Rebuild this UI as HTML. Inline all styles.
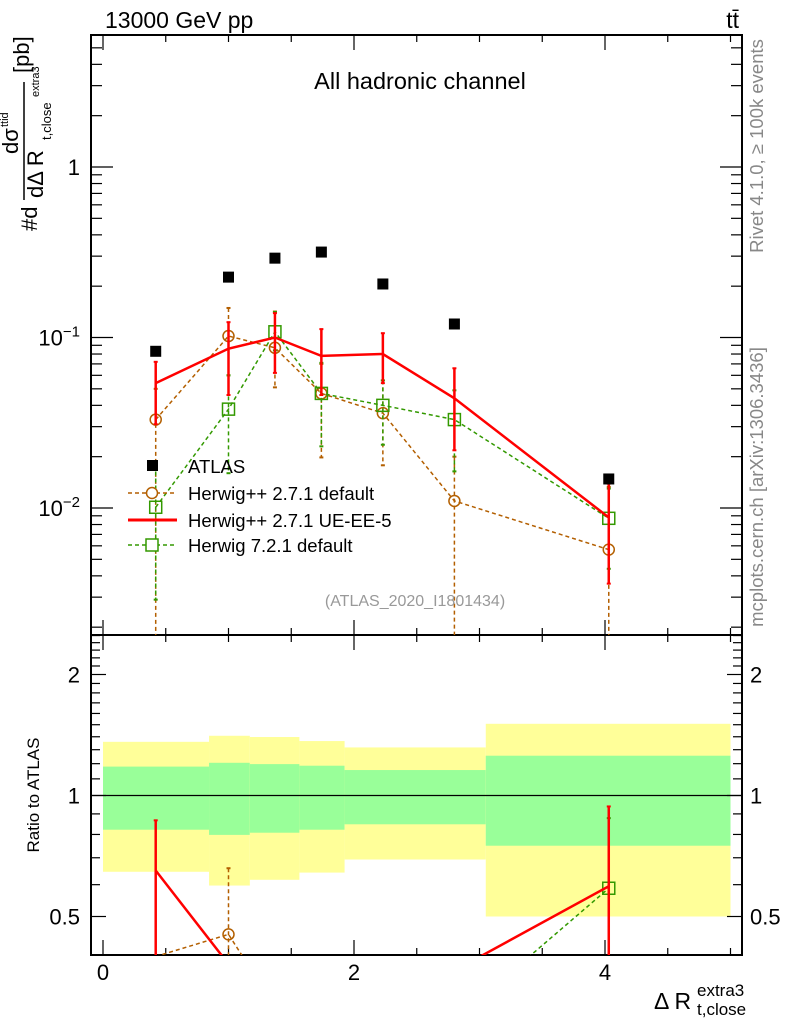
<!DOCTYPE html>
<html><head><meta charset="utf-8">
<style>
html,body{margin:0;padding:0;background:#fff;overflow:hidden;width:786px;height:1024px;}
svg{display:block;font-family:"Liberation Sans",Arial,sans-serif;}
</style></head>
<body>
<svg id="chart" width="786" height="1024" viewBox="0 0 786 1024" xmlns="http://www.w3.org/2000/svg">
<g id="bands"></g>
<g id="axes"></g>
<g id="series"></g>
<text x="105" y="28" font-size="23">13000 GeV pp</text>
<text x="739" y="28" font-size="23" text-anchor="end">tt̄</text>
<text x="420" y="89" font-size="23.5" text-anchor="middle">All hadronic channel</text>
<text x="415" y="606" font-size="16" fill="#999" text-anchor="middle">(ATLAS_2020_I1801434)</text>
<text transform="translate(763,146) rotate(-90)" font-size="18.5" fill="#888" text-anchor="middle">Rivet 4.1.0, ≥ 100k events</text>
<text transform="translate(763,487) rotate(-90)" font-size="18.5" fill="#888" text-anchor="middle">mcplots.cern.ch [arXiv:1306.3436]</text>
<g>
<text transform="translate(37,231) rotate(-90)" font-size="22">#d</text>
<text transform="translate(18,154) rotate(-90)" font-size="22">dσ</text>
<text transform="translate(8,127) rotate(-90)" font-size="11">ttid</text>
<line x1="24" y1="82" x2="24" y2="200" stroke="#000" stroke-width="1.5"/>
<text transform="translate(43,198) rotate(-90)" font-size="22">dΔ R</text>
<text transform="translate(51,140) rotate(-90)" font-size="13">t,close</text>
<text transform="translate(39,97) rotate(-90)" font-size="11">extra3</text>
<text transform="translate(29,73) rotate(-90)" font-size="22">[pb]</text>
</g>
<text transform="translate(39,795) rotate(-90)" font-size="17" text-anchor="middle">Ratio to ATLAS</text>
<g>
<text x="654" y="1009" font-size="23">Δ R</text>
<text x="697" y="996" font-size="17">extra3</text>
<text x="697" y="1015" font-size="17">t,close</text>
</g>
<g id="legend"></g>
</svg>
<script>
// ---- data ----
const xPos = [0.42, 1.0, 1.37, 1.74, 2.23, 2.8, 4.03];
const binEdges = [0, 0.845, 1.17, 1.565, 1.925, 3.05, 5.0];
const atlasVals = [0.083, 0.226, 0.292, 0.317, 0.206, 0.12, 0.0148];
const bandYellowUp = [1.36, 1.408, 1.398, 1.366, 1.317, 1.508];
const bandYellowDn = [0.646, 0.597, 0.617, 0.643, 0.693, 0.5];
const bandGreenUp = [1.18, 1.206, 1.197, 1.186, 1.157, 1.256];
const bandGreenDn = [0.822, 0.798, 0.808, 0.822, 0.848, 0.75];
const brownVals = [0.033, 0.102, 0.087, 0.047, 0.036, 0.011, 0.0057];
const brownUp = [0.05, 0.149, 0.142, 0.07, 0.056, 0.02, 0.0133];
const brownDn = [0.0005, 0.06, 0.051, 0.0198, 0.0178, 0.0005, 0.0005];
const redVals = [0.054, 0.086, 0.1, 0.078, 0.08, 0.044, 0.0088];
const redUp = [0.072, 0.123, 0.139, 0.112, 0.106, 0.066, 0.0139];
const redDn = [0.031, 0.046, 0.062, 0.046, 0.054, 0.0218, 0.0036];
const greenVals = [0.0101, 0.038, 0.108, 0.047, 0.04, 0.033, 0.0087];
const greenUp = [0.018, 0.06, 0.141, 0.071, 0.056, 0.049, 0.013];
const greenDn = [0.0029, 0.016, 0.084, 0.023, 0.0235, 0.0164, 0.0044];
const xTicks = [0, 2, 4];
const yTickExp = [0, -1, -2];
const ratioTicks = [0.5, 1, 2];

// ---- geometry ----
const L=91, R=742, T=35, M=635, B=955;
const NS="http://www.w3.org/2000/svg";
const sx = v => 103 + v*125.5;
const sy = v => 167 - Math.log10(v)*170.5;
const sr = v => 795.5 - Math.log2(v)*121;
function mk(tag, attrs, parent){const e=document.createElementNS(NS,tag);for(const k in attrs)e.setAttribute(k,attrs[k]);parent.appendChild(e);return e;}
const axes=document.getElementById('axes'), bands=document.getElementById('bands'), series=document.getElementById('series'), legend=document.getElementById('legend');

const defs=mk('defs',{},document.getElementById('chart'));
const c1=mk('clipPath',{id:'cm'},defs); mk('rect',{x:L,y:T,width:R-L,height:M-T},c1);
const c2=mk('clipPath',{id:'cr'},defs); mk('rect',{x:L,y:M,width:R-L,height:B-M},c2);

for(let i=0;i<binEdges.length-1;i++){
  const x1=sx(binEdges[i]), x2=sx(binEdges[i+1]);
  const y=mk('rect',{x:x1,y:sr(bandYellowUp[i]),width:x2-x1,height:sr(bandYellowDn[i])-sr(bandYellowUp[i]),fill:'#ffff99'},bands);
  
  
  const g=mk('rect',{x:x1,y:sr(bandGreenUp[i]),width:x2-x1,height:sr(bandGreenDn[i])-sr(bandGreenUp[i]),fill:'#99ff99'},bands);
  
  
}
mk('line',{x1:L,y1:sr(1),x2:R,y2:sr(1),stroke:'#000','stroke-width':1.2},bands);

mk('rect',{x:L,y:T,width:R-L,height:M-T,fill:'none',stroke:'#000','stroke-width':2},axes);
mk('rect',{x:L,y:M,width:R-L,height:B-M,fill:'none',stroke:'#000','stroke-width':2},axes);

for(let v=0; v<=5.0001; v+=0.5){
  const major = Math.abs(v-Math.round(v/2)*2)<1e-6;
  const len = major?15:7, x=sx(v);
  mk('line',{x1:x,y1:T,x2:x,y2:T+len,stroke:'#000','stroke-width':1.2},axes);
  mk('line',{x1:x,y1:M,x2:x,y2:M-len,stroke:'#000','stroke-width':1.2},axes);
  mk('line',{x1:x,y1:M,x2:x,y2:M+len,stroke:'#000','stroke-width':1.2},axes);
  mk('line',{x1:x,y1:B,x2:x,y2:B-len,stroke:'#000','stroke-width':1.2},axes);
}
xTicks.forEach(v=>{const t=mk('text',{x:sx(v),y:B+25,'font-size':22,'text-anchor':'middle'},axes);t.textContent=v;
   });

for(let d=-3; d<=0; d++){
  for(let m=1;m<=9;m++){
    const v=m*Math.pow(10,d); const y=sy(v);
    if(y<T||y>M) continue;
    const len = m===1?22:11;
    mk('line',{x1:L,y1:y,x2:L+len,y2:y,stroke:'#000','stroke-width':1.2},axes);
    mk('line',{x1:R,y1:y,x2:R-len,y2:y,stroke:'#000','stroke-width':1.2},axes);
  }
}
yTickExp.forEach(e=>{
  const y=sy(Math.pow(10,e))+8;
  const t=mk('text',{x:80,y:y,'font-size':22,'text-anchor':'end'},axes);
   
  if(e===0){t.textContent='1';}
  else{
    const a=mk('tspan',{},t); a.textContent='10';
    const b=mk('tspan',{'font-size':15,dy:-9},t); b.textContent='−'+(-e);
  }
});

for(let v=0.4; v<=2.55; v+=0.1){
  const y=sr(v); if(y<M||y>B) continue;
  const major = ratioTicks.some(r=>Math.abs(r-v)<1e-6);
  const len = major?15:9;
  mk('line',{x1:L,y1:y,x2:L+len,y2:y,stroke:'#000','stroke-width':1.2},axes);
  mk('line',{x1:R,y1:y,x2:R-len,y2:y,stroke:'#000','stroke-width':1.2},axes);
}
ratioTicks.forEach(v=>{
  const t=mk('text',{x:80,y:sr(v)+8,'font-size':22,'text-anchor':'end'},axes);t.textContent=v;
   
  const t2=mk('text',{x:750,y:sr(v)+8,'font-size':22},axes);t2.textContent=v;
   
});

function drawSeries(name, vals, up, dn, color, dash, marker, width, refDiv, ys, clip, yMin, yMax){
  const g=mk('g',{'clip-path':'url(#'+clip+')'},series);
  
  
  let pts=[];
  vals.forEach((v,i)=>{
    const d = refDiv? refDiv[i]:1;
    const x=sx(xPos[i]);
    const yc=ys(v/d), yu=ys(up[i]/d), yd=ys(dn[i]/d);
    pts.push(x+','+yc);
    if(yc<yMin-1||yc>yMax+1) return;
    mk('line',{x1:x,y1:yu,x2:x,y2:yd,stroke:color,'stroke-width':width,'stroke-dasharray':dash},g);
    mk('line',{x1:x-2,y1:yu,x2:x+2,y2:yu,stroke:color,'stroke-width':2},g);
    mk('line',{x1:x-2,y1:yd,x2:x+2,y2:yd,stroke:color,'stroke-width':2},g);
  });
  mk('polyline',{points:pts.join(' '),fill:'none',stroke:color,'stroke-width':width,'stroke-dasharray':dash},g);
  vals.forEach((v,i)=>{
    const d = refDiv? refDiv[i]:1;
    const x=sx(xPos[i]), y=ys(v/d);
    if(y<yMin-1||y>yMax-2) return;
    let m;
    if(marker==='circle') m=mk('circle',{cx:x,cy:y,r:5.5,fill:'none',stroke:color,'stroke-width':1.5},g);
    else if(marker==='square') m=mk('rect',{x:x-6,y:y-6,width:12,height:12,fill:'none',stroke:color,'stroke-width':1.5},g);
    if(m){ }
  });
}
const brown='#b35f00', red='#ff0000', green='#339900';
drawSeries('herwigpp-default', brownVals, brownUp, brownDn, brown, '4,3', 'circle', 1.5, null, sy, 'cm', T, M);
drawSeries('herwig721-default', greenVals, greenUp, greenDn, green, '4,3', 'square', 1.5, null, sy, 'cm', T, M);
drawSeries('herwigpp-ue-ee-5', redVals, redUp, redDn, red, 'none', 'none', 2.5, null, sy, 'cm', T, M);
drawSeries('ratio-herwigpp-default', brownVals, brownUp, brownDn, brown, '4,3', 'circle', 1.5, atlasVals, sr, 'cr', M, B);
drawSeries('ratio-herwig721-default', greenVals, greenUp, greenDn, green, '4,3', 'square', 1.5, atlasVals, sr, 'cr', M, B);
drawSeries('ratio-herwigpp-ue-ee-5', redVals, redUp, redDn, red, 'none', 'none', 2.5, atlasVals, sr, 'cr', M, B);

atlasVals.forEach((v,i)=>{
  const r=mk('rect',{x:sx(xPos[i])-5.5,y:sy(v)-5.5,width:11,height:11,fill:'#000'},series);
  
  
});

const le=[
  {n:'ATLAS',y:466},{n:'Herwig++ 2.7.1 default',y:493,c:brown,d:'4,3',m:'circle'},
  {n:'Herwig++ 2.7.1 UE-EE-5',y:520,c:red,d:'none',w:3},{n:'Herwig 7.2.1 default',y:545,c:green,d:'4,3',m:'square'}];
le.forEach((e,i)=>{
  const g=mk('g',{},legend);
  
  
  if(i===0){ mk('rect',{x:147,y:e.y-6,width:11,height:11,fill:'#000'},g); }
  else{
    mk('line',{x1:128,y1:e.y,x2:177,y2:e.y,stroke:e.c,'stroke-width':e.w||1.5,'stroke-dasharray':e.d},g);
    if(e.m==='circle') mk('circle',{cx:152,cy:e.y,r:5.5,fill:'#fff',stroke:e.c,'stroke-width':1.5},g);
    if(e.m==='square') mk('rect',{x:146,y:e.y-6,width:12,height:12,fill:'#fff',stroke:e.c,'stroke-width':1.5},g);
  }
  const t=mk('text',{x:188,y:e.y+7,'font-size':18.5},g); t.textContent=e.n;
});
</script>
</body></html>
